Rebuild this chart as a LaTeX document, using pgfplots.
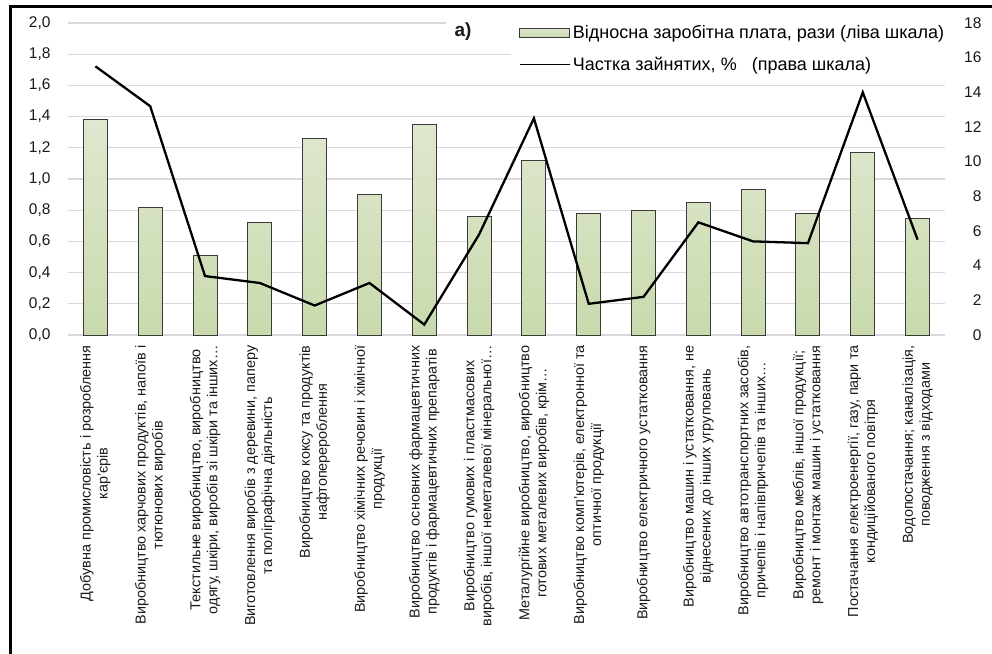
\documentclass[border=0pt]{standalone}
\usepackage{fontspec}
\setmainfont{Liberation Sans}
\usepackage{pgfplots}
\pgfplotsset{compat=1.18}
\definecolor{barA}{HTML}{DFE8CF}
\definecolor{barB}{HTML}{C9DAAD}
\definecolor{edgec}{HTML}{3A3A3A}
\definecolor{gridc}{HTML}{D9D9D9}
\definecolor{tickc}{HTML}{1A1A1A}
\newcommand\ticksize{\fontsize{15.5}{18}\selectfont}
\newcommand\labsize{\fontsize{14.4}{17}\selectfont}
\newcommand\legsize{\fontsize{18}{20}\selectfont}
\begin{document}
\begin{tikzpicture}
\useasboundingbox (0pt,0pt) rectangle (992pt,653pt);
\fill[white] (0pt,0pt) rectangle (992pt,653pt);
\begin{axis}[
  at={(68pt,318pt)}, anchor=south west,
  scale only axis, width=877pt, height=312pt,
  xmin=0.5, xmax=16.5, ymin=0, ymax=2,
  axis line style={draw=none},
  major tick length=0pt,
  ymajorgrids, grid style={draw=gridc, line width=1.3pt},
  ytick={0,0.2,0.4,0.6,0.8,1,1.2,1.4,1.6,1.8,2},
  yticklabels={{0,0},{0,2},{0,4},{0,6},{0,8},{1,0},{1,2},{1,4},{1,6},{1,8},{2,0}},
  yticklabel style={font=\ticksize, text=tickc, xshift=-14pt},
  xtick={1,...,16},
  xticklabels={
    {Добувна промисловість і розроблення\\кар'єрів},
    {Виробництво харчових продуктів, напоїв і\\тютюнових виробів},
    {Текстильне виробництво, виробництво\\одягу, шкіри, виробів зі шкіри та інших…},
    {Виготовлення виробів з деревини, паперу\\та поліграфічна діяльність},
    {Виробництво коксу та продуктів\\нафтоперероблення},
    {Виробництво хімічних речовин і хімічної\\продукції},
    {Виробництво основних фармацевтичних\\продуктів і фармацевтичних препаратів},
    {Виробництво гумових і пластмасових\\виробів, іншої неметалевої мінеральної…},
    {Металургійне виробництво, виробництво\\готових металевих виробів, крім…},
    {Виробництво комп'ютерів, електронної та\\оптичної продукції},
    {Виробництво електричного устатковання},
    {Виробництво машин і устатковання, не\\віднесених до інших угруповань},
    {Виробництво автотранспортних засобів,\\причепів і напівпричепів та інших…},
    {Виробництво меблів, іншої продукції;\\ремонт і монтаж машин і устатковання},
    {Постачання електроенергії, газу, пари та\\кондиційованого повітря},
    {Водопостачання; каналізація,\\поводження з відходами}},
  xticklabel style={rotate=90, anchor=east, align=center, font=\labsize, text=tickc},
  xticklabel shift=7pt,
  clip=false,
]
\addplot[ybar, bar width=24pt, draw=edgec, line width=1pt, top color=barA, bottom color=barB]
  coordinates {(1,1.38) (2,0.82) (3,0.51) (4,0.72) (5,1.26) (6,0.90) (7,1.35) (8,0.76)
               (9,1.12) (10,0.78) (11,0.80) (12,0.85) (13,0.93) (14,0.78) (15,1.17) (16,0.75)};
\end{axis}
\fill[white] (446pt,612pt) rectangle (530pt,638pt);
\begin{axis}[
  at={(68pt,318pt)}, anchor=south west,
  scale only axis, width=877pt, height=312pt,
  xmin=0.5, xmax=16.5, ymin=0, ymax=18,
  axis x line=none, axis y line*=right,
  y axis line style={draw=none},
  major tick length=0pt,
  ytick={0,2,4,6,8,10,12,14,16,18},
  yticklabels={0,2,4,6,8,10,12,14,16,18},
  yticklabel style={font=\ticksize, text=tickc, anchor=east, xshift=40pt},
  legend style={at={(0.505,1.012)}, anchor=north west, draw=none, fill=white,
    font=\legsize, row sep=13pt, inner xsep=8pt, inner ysep=4pt},
  legend cell align=left,
  clip=false,
]
\addlegendimage{draw=edgec, line width=1pt, top color=barA, bottom color=barB,
  legend image code/.code={\draw[draw=edgec, line width=1pt, top color=barA, bottom color=barB] (0pt,-4.5pt) rectangle (50pt,4.5pt);}}
\addlegendentry{Відносна заробітна плата, рази (ліва шкала)}
\addplot[black, line width=2.3pt, mark=none,
  legend image code/.code={\draw[black, line width=1.8pt] (0pt,0pt) -- (50pt,0pt);}]
  coordinates {(1,15.5) (2,13.2) (3,3.4) (4,3.0) (5,1.7) (6,3.0) (7,0.6) (8,5.8)
               (9,12.5) (10,1.8) (11,2.2) (12,6.5) (13,5.4) (14,5.3) (15,14.0) (16,5.5)};
\addlegendentry{Частка зайнятих, \%\ \ \ (права шкала)}
\end{axis}
\node[font=\bfseries\fontsize{19}{22}\selectfont, text=tickc] at (463pt,621pt) {а)};
\draw[line width=3pt] (10pt,-10pt) -- (10pt,646.5pt) -- (1010pt,646.5pt);
\end{tikzpicture}
\end{document}
